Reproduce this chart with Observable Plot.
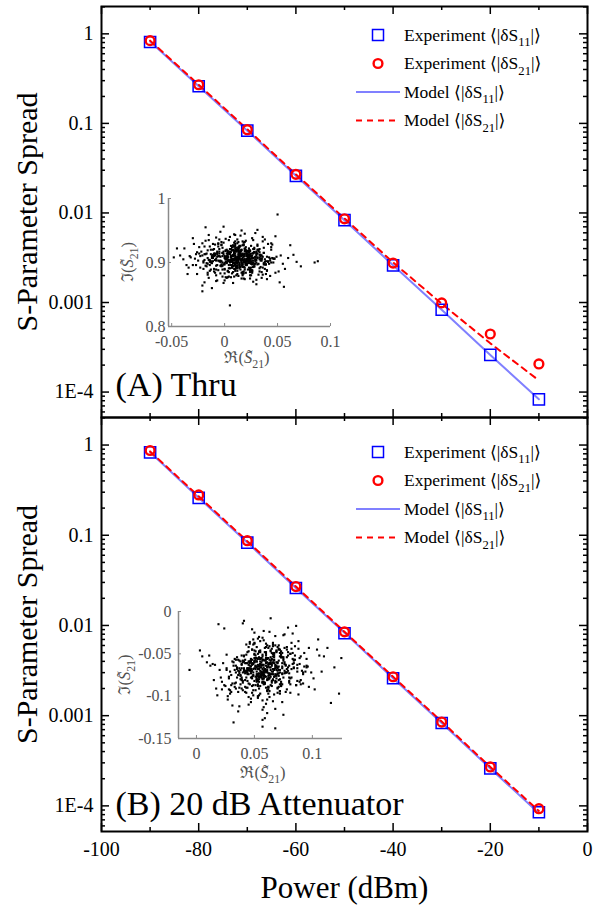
<!DOCTYPE html>
<html><head><meta charset="utf-8">
<script src="https://cdn.jsdelivr.net/npm/d3@7"></script>
<script src="https://cdn.jsdelivr.net/npm/@observablehq/plot@0.6"></script>
<style>
body{margin:0;background:#fff}
#c{position:relative;width:596px;height:905px;overflow:hidden;background:#fff}
#c svg{position:absolute;}
</style>
</head><body><div id="c"></div>
<script>
// ---------- data ----------
const power = [-90,-80,-70,-60,-50,-40,-30,-20,-10];
const thruExpS11   = [0.81, 0.26, 0.083, 0.026, 0.0083, 0.0026, 0.00083, 0.00026, 0.000083];
const thruExpS21   = [0.84, 0.27, 0.085, 0.027, 0.0086, 0.00276, 0.00099, 0.000445, 0.000206];
const thruModelS11 = [0.82, 0.26, 0.083, 0.026, 0.0083, 0.0026, 0.00083, 0.00026, 0.000083];
const thruModelS21 = [0.84, 0.27, 0.086, 0.027, 0.0087, 0.0028, 0.00097, 0.00035, 0.000135];
const attExpS11    = [0.83, 0.26, 0.083, 0.026, 0.0082, 0.0026, 0.00083, 0.00026, 0.000085];
const attExpS21    = [0.87, 0.28, 0.087, 0.027, 0.0085, 0.0027, 0.00085, 0.00027, 0.000093];
const attModelS11  = [0.83, 0.26, 0.083, 0.026, 0.0083, 0.0026, 0.00083, 0.00026, 0.000083];
const attModelS21  = [0.85, 0.27, 0.086, 0.027, 0.0085, 0.0027, 0.00086, 0.00027, 0.000088];

const yTickValues = [1, 0.1, 0.01, 0.001, 0.0001];
const yTickLabels = ["1", "0.1", "0.01", "0.001", "1E-4"];
const xTickValues = [-100, -80, -60, -40, -20, 0];
const xTickLabels = ["-100", "-80", "-60", "-40", "-20", "0"];
const xMinorValues = [-90, -70, -50, -30, -10];

const insetAXTicks = [-0.05, 0, 0.05, 0.1];
const insetAXLabels = ["-0.05", "0", "0.05", "0.1"];
const insetAYTicks = [0.8, 0.9, 1];
const insetAYLabels = ["0.8", "0.9", "1"];
const insetBXTicks = [0, 0.05, 0.1];
const insetBXLabels = ["0", "0.05", "0.1"];
const insetBYTicks = [-0.15, -0.1, -0.05, 0];
const insetBYLabels = ["-0.15", "-0.1", "-0.05", "0"];

// inset scatter (values in thousandths)
const thruRe = [12,-5,27,3,40,-18,9,21,-2,33,15,-27,6,18,48,-11,24,0,36,-8,10,29,-21,14,4,44,-14,19,7,-33,
25,11,-4,38,16,-24,2,30,13,55,-9,22,8,-16,35,17,-1,26,5,-38,20,42,-7,14,31,-20,9,3,47,23,
-12,16,28,-3,6,39,-26,18,11,62,1,24,34,-15,8,19,-6,45,13,-30,27,4,-19,37,21,10,-10,32,7,50,
-23,15,2,26,41,-13,17,6,-45,29,12,36,-8,22,3,53,-17,9,30,14,-28,20,5,43,-4,25,11,-35,16,68,
8,-2,33,19,-21,13,46,1,28,-11,24,6,-14,39,17,0,31,-25,10,57,-7,21,35,4,-18,14,27,9,-42,44,
18,-1,30,11,-29,23,7,51,-9,15,26,2,-16,37,12,20,-5,40,8,-22,33,16,-3,24,65,5,-13,29,19,-36,
10,43,1,22,-8,34,14,-19,27,6,-2,17,48,-10,25,9,38,-27,13,3,31,-15,20,7,56,15,-6,26,-32,11,
42,4,18,-12,35,23,0,-24,16,85,-4,28,10,45,-17,21,8,32,-39,14,5,37,-9,24,13,-20,30,2,49,18,
-14,9,27,-1,39,15,-26,22,6,72,19,-7,34,12,-48,25,3,41,-11,17,8,29,-18,20,1,52,-5,14,36,-23,
26,11,-13,31,4,60,-30,18,9,23,-3,38,15,-21,28,7,44,-8,12,33,2,-16,21,47,10,-34,27,16,-2,88];
const thruIm = [905,921,893,912,887,934,899,915,878,908,926,896,911,883,941,902,918,890,909,871,
914,898,930,906,885,920,901,945,892,910,880,917,903,936,895,924,907,866,913,898,
928,889,904,919,876,911,897,938,902,922,884,908,915,893,951,900,925,887,906,913,
860,919,897,932,904,882,916,909,894,927,901,875,912,943,899,921,888,907,918,896,
935,904,869,915,898,926,910,881,903,975,892,917,905,884,929,900,913,877,922,908,
895,940,903,918,886,911,899,931,873,914,906,924,891,903,948,898,919,882,910,901,
927,889,916,905,864,922,900,937,894,912,880,908,925,897,914,872,920,903,933,890,
909,918,885,902,955,896,915,878,911,924,900,868,913,906,929,892,919,886,904,942,
897,914,881,923,908,899,936,874,910,917,891,905,928,888,912,833,920,902,932,896,
911,879,918,903,939,893,906,925,870,909,915,898,884,921,901,944,890,913,906,877,
926,904,917,895,862,912,930,887,908,919,898,935,875,910,903,922,889,914,950,900,
883,916,907,928,894,911,868,920,905,891,940,899,912,885,924,902,917,876,909,931,
904,890,921,956,897,913,882,906,926,894,918,872,903,936,908,888,915,901,929,880,
912,946,895,920,905,869,917,899,933,910,886,923,902,914,878,907,938,893,919,904,
927,897,911,855,916,903,930,889,908,921,900,884,918,906,943,892,914,875,910,902];
const thruRe2 = [8,19,-3,14,25,2,11,30,-10,17,5,22,13,-6,28,9,16,0,34,12,-14,20,7,24,15,-2,31,10,18,4,
26,-8,13,21,6,37,11,-17,19,3,14,27,-4,9,23,16,1,33,-12,20,7,12,29,-1,18,10,40,5,15,-7,
24,13,2,21,8,-19,17,32,11,6,-5,25,14,19,0,36,9,16,-11,22,12,3,28,7,-15,20,15,10,43,1,
18,-3,26,13,8,31,-9,21,5,14,10,35,-6,17,23,4,12,-20,27,16,2,19,9,38,-2,24,11,6,-13,29,
15,7,22,0,33,13,-8,18,10,25,-4,14,30,8,20,-16,12,3,41,17,6,26,-1,11,21,15,-10,28,9,4,
19,35,13,-6,23,7,16,1,30,-14,11,24,5,18,-3,27,12,39,8,20,-7,15,2,22,10,32,-18,17,13,6,
25,9,-2,19,14,44,4,21,-11,16,12,29,7,-5,24,18,0,34,10,15,-9,20,13,26,3,37,11,-15,22,8,
17,5,31,14,-4,19,9,27,-21,12,23,1,16,40,7,13,-8,25,18,10,3,28,-12,15,21,6,33,11,-1,19,
14,8,24,-6,17,30,2,12,46,9,-16,22,16,5,27,13,-3,20,10,35,7,18,-10,25,15,0,29,11,4,-19,
21,14,38,8,-7,23,17,3,26,12,-2,31,9,19,6,-13,24,16,10,28,1,15,36,-5,20,11,7,22,-9,13];
const thruIm2 = [905,914,897,909,892,920,902,911,886,907,917,899,904,925,894,912,901,883,910,903,
896,918,906,890,913,900,928,905,893,915,908,880,911,902,921,897,906,914,889,903,
924,900,909,895,916,904,877,912,907,898,919,893,905,931,901,910,888,915,903,896,
911,922,899,906,885,913,904,918,894,908,902,926,896,910,907,881,914,900,920,905,
891,909,916,903,935,898,912,887,906,919,904,895,911,922,900,908,884,914,902,917,
897,906,929,893,910,903,919,890,907,912,901,874,915,905,923,899,908,896,913,904,
918,892,903,910,886,916,906,927,900,909,895,912,904,920,897,907,882,914,902,933,
908,899,917,893,905,911,890,921,903,896,913,906,879,910,901,924,898,909,915,887,
904,919,900,912,894,907,930,902,911,896,917,889,906,903,922,898,913,885,908,901,
910,925,895,905,916,900,891,912,907,920,899,909,883,914,904,928,897,906,918,893,
911,902,921,888,908,915,900,876,910,905,896,913,907,926,901,892,917,903,911,898,
919,906,884,909,902,932,895,914,904,890,908,923,899,911,896,916,905,880,913,901,
907,894,918,903,927,900,910,887,906,915,898,912,905,921,893,909,902,934,897,911,
903,886,914,906,919,899,908,891,916,904,910,925,901,895,913,907,882,918,903,900,
915,897,906,922,909,889,912,904,929,898,905,917,892,910,902,920,896,908,914,901];
const attRe = [58,41,73,62,30,85,51,67,45,95,60,22,77,54,39,69,48,104,63,35,56,81,44,66,12,72,53,90,38,61,
47,76,59,28,83,50,65,42,110,57,70,33,64,52,88,46,18,74,55,68,40,79,61,26,93,49,71,36,58,84,
52,3,66,43,78,57,31,99,63,47,74,55,37,69,60,116,45,62,24,80,54,67,41,87,50,15,72,59,34,65,
48,92,56,29,75,63,44,106,53,70,38,82,58,20,68,51,89,46,61,9,77,54,35,71,64,97,42,57,27,81,
60,49,86,39,66,55,123,44,73,32,62,52,78,17,69,58,40,94,47,65,56,25,83,61,43,72,50,101,36,67,
59,46,76,30,64,53,88,-6,70,57,41,80,62,48,108,55,34,74,60,45,68,22,85,51,63,39,96,57,73,28,
54,66,44,79,58,14,71,49,91,37,62,53,84,31,67,56,42,113,60,75,47,69,26,82,55,64,38,93,51,19,
72,59,45,87,61,33,77,54,68,102,43,65,57,23,80,50,70,36,89,58,48,74,62,11,66,53,97,40,76,56,
63,29,84,52,69,44,119,57,35,71,60,46,90,55,27,78,64,41,86,51,67,5,73,58,37,95,49,62,32,81,
54,70,43,105,59,24,75,61,47,66,39,83,56,16,72,52,92,45,68,125,57,34,79,63,48,87,50,21,74,60];
const attIm = [-70,-52,-88,-63,-95,-41,-77,-58,-110,-66,-48,-83,-72,-30,-91,-60,-79,-45,-101,-68,
-55,-86,-74,-37,-64,-97,-50,-81,-69,-120,-59,-43,-76,-92,-62,-25,-84,-71,-53,-105,
-67,-89,-47,-78,-35,-61,-99,-73,-56,-82,-14,-70,-94,-51,-65,-87,-40,-75,-113,-58,
-80,-46,-68,-96,-54,-31,-85,-72,-62,-103,-49,-77,-90,-66,-42,-108,-59,-73,-20,-84,
-64,-98,-53,-71,-38,-81,-69,-126,-57,-88,-45,-74,-63,-93,-28,-79,-67,-52,-100,-61,
-86,-44,-76,-69,-115,-55,-83,-36,-72,-60,-95,-48,-78,-65,-8,-89,-57,-74,-104,-50,
-70,-33,-87,-62,-80,-46,-97,-68,-54,-131,-76,-59,-42,-91,-64,-23,-82,-71,-107,-56,
-73,-88,-49,-66,-39,-94,-60,-79,-118,-52,-85,-67,-27,-75,-58,-102,-44,-69,-90,-63,
-11,-78,-55,-96,-71,-35,-84,-61,-109,-47,-74,-92,-57,-68,-41,-81,-65,-136,-53,-77,
-99,-50,-72,-19,-86,-62,-45,-93,-70,-58,-80,-32,-66,-111,-54,-75,-89,-43,-64,-122,
-56,-83,-69,-37,-97,-60,-76,-49,-87,-15,-72,-58,-101,-67,-40,-85,-63,-78,-29,-92,
-51,-74,-116,-61,-82,-46,-70,-95,-55,-34,-88,-65,-79,-52,-106,-68,-43,-84,-60,-73,
-24,-97,-57,-76,-48,-90,-66,-128,-54,-81,-71,-38,-86,-62,-100,-45,-77,-59,-17,-93,
-68,-53,-83,-74,-112,-56,-39,-89,-64,-79,-47,-96,-61,-33,-72,-87,-58,-104,-69,-50,
-80,-26,-75,-63,-94,-42,-85,-67,-138,-55,-73,-91,-48,-66,-21,-82,-60,-78,-107,-57];
const attRe2 = [58,47,66,53,71,60,42,64,55,78,50,62,37,69,57,45,74,52,61,84,48,59,67,40,56,73,51,63,33,68,
57,46,80,54,62,49,70,43,59,65,52,76,38,61,55,88,47,66,58,41,72,53,60,30,64,50,69,57,44,77,
56,63,48,71,35,59,54,82,46,67,61,52,74,39,58,65,43,70,55,26,63,49,79,57,45,68,53,92,60,51,
66,40,58,73,48,62,56,36,69,54,47,75,59,64,42,81,52,60,67,34,57,50,71,45,63,55,86,49,61,38,
68,53,44,76,58,62,31,66,51,72,56,64,47,59,83,41,65,54,70,46,60,37,73,52,57,67,49,95,55,62,
43,69,58,50,78,61,39,64,53,74,48,56,66,29,71,59,45,63,57,85,52,68,40,61,55,72,47,65,33,58,
77,50,62,44,69,56,60,89,46,64,54,38,70,58,51,75,63,42,67,57,49,80,55,61,36,66,53,73,45,59,
62,28,68,56,47,71,52,90,60,43,65,57,50,76,39,63,54,69,58,48,72,44,61,55,82,51,66,34,59,64,
46,70,57,53,79,41,62,56,68,50,60,87,45,65,54,37,71,58,63,49,74,52,59,43,67,56,81,48,62,40,
57,69,51,64,32,73,55,60,47,66,53,78,58,44,70,61,50,84,56,39,63,54,72,46,59,67,42,65,57,75];
const attIm2 = [-70,-58,-81,-65,-76,-52,-73,-62,-88,-68,-55,-79,-71,-46,-84,-63,-74,-59,-93,-67,
-61,-77,-50,-72,-66,-85,-57,-75,-69,-40,-80,-64,-73,-54,-90,-68,-60,-78,-48,-71,
-83,-62,-75,-56,-70,-98,-65,-53,-79,-67,-45,-74,-61,-87,-69,-58,-76,-51,-82,-72,
-64,-94,-57,-73,-66,-43,-80,-68,-60,-77,-71,-55,-86,-63,-75,-49,-70,-91,-59,-67,
-78,-62,-52,-74,-69,-84,-56,-72,-38,-65,-81,-60,-76,-47,-70,-89,-63,-57,-79,-68,
-73,-54,-85,-66,-61,-96,-71,-50,-77,-64,-58,-82,-69,-42,-75,-62,-87,-72,-55,-80,
-67,-76,-48,-70,-63,-92,-59,-74,-65,-53,-78,-61,-71,-84,-56,-69,-44,-77,-66,-86,
-60,-73,-51,-80,-68,-57,-99,-64,-75,-62,-70,-47,-83,-59,-72,-66,-78,-54,-88,-67,
-63,-76,-41,-71,-58,-85,-69,-61,-79,-52,-74,-65,-93,-60,-77,-49,-68,-82,-56,-72,
-64,-37,-80,-67,-75,-55,-90,-62,-70,-46,-83,-59,-73,-66,-52,-78,-61,-95,-69,-57,
-76,-64,-48,-81,-70,-60,-86,-54,-74,-68,-43,-79,-63,-71,-58,-89,-66,-53,-77,-72,
-62,-84,-50,-73,-67,-57,-91,-65,-75,-45,-80,-61,-69,-56,-78,-64,-39,-72,-68,-87,
-59,-74,-53,-82,-66,-71,-97,-60,-76,-51,-70,-63,-85,-57,-73,-67,-44,-79,-62,-75,
-54,-81,-68,-90,-61,-72,-50,-77,-65,-58,-83,-69,-47,-74,-60,-88,-66,-55,-78,-71,
-63,-92,-57,-70,-42,-80,-67,-61,-76,-52,-73,-65,-86,-59,-69,-49,-81,-64,-72,-56];

// ---------- layout ----------
const FONT = "'Liberation Serif', 'Times New Roman', 'DejaVu Serif', serif";
const W = 596, ML = 101, MR = 9;
const yDomain = [5.2e-5, 2.02];
const container = document.getElementById("c");

function rich(sel, parts, size) {
  parts.forEach(p => {
    const ts = sel.append("tspan").text(p.t);
    if (p.i) ts.attr("font-style", "italic");
    if (p.sub) ts.attr("font-size", size * 0.72).attr("dy", size * 0.3);
    else if (p.after) ts.attr("dy", -size * 0.3);
  });
}

function legend(svg) {
  const g = d3.select(svg).append("g").attr("font-family", FONT).attr("font-size", 17.5)
    .attr("fill", "black").attr("text-anchor", "start").style("text-anchor", "start");
  const cx = 378, tx = 404;
  const rowsY = [35, 63.5, 92, 120.5];
  g.append("rect").attr("x", cx - 5.5).attr("y", rowsY[0] - 5.5).attr("width", 11).attr("height", 11)
    .attr("fill", "none").attr("stroke", "#0000ff").attr("stroke-width", 1.5);
  g.append("circle").attr("cx", cx).attr("cy", rowsY[1]).attr("r", 4.4)
    .attr("fill", "none").attr("stroke", "#ff0000").attr("stroke-width", 2.4);
  g.append("line").attr("x1", 356).attr("x2", 400).attr("y1", rowsY[2]).attr("y2", rowsY[2])
    .attr("stroke", "#8080ff").attr("stroke-width", 2);
  g.append("line").attr("x1", 356).attr("x2", 400).attr("y1", rowsY[3]).attr("y2", rowsY[3])
    .attr("stroke", "#ff0000").attr("stroke-width", 2).attr("stroke-dasharray", "6,5");
  const texts = [["Experiment ⟨|δS", "11"], ["Experiment ⟨|δS", "21"], ["Model ⟨|δS", "11"], ["Model ⟨|δS", "21"]];
  texts.forEach((t, i) => {
    const el = g.append("text").attr("x", tx).attr("y", rowsY[i]).attr("dy", "0.33em").style("text-anchor", "start");
    rich(el, [{t: t[0]}, {t: t[1], sub: true}, {t: "|⟩", after: true}], 17.5);
  });
}

function mainPanel(o) {
  const fw = W - ML - MR, fh = o.height - o.mt - o.mb;
  const rows = arr => power.map((p, i) => ({p, v: arr[i]}));
  const yMinor = [];
  for (let k = -5; k <= 0; k++) for (let m = 2; m <= 9; m++) {
    const v = m * Math.pow(10, k);
    if (v > yDomain[0] && v < yDomain[1]) yMinor.push(v);
  }
  const ts = {stroke: "black", strokeWidth: 1.5};
  const marks = [
    Plot.line(rows(o.m11), {x: "p", y: "v", stroke: "#8080ff", strokeWidth: 2}),
    Plot.line(rows(o.m21), {x: "p", y: "v", stroke: "#ff0000", strokeWidth: 2, strokeDasharray: "6,5"}),
    Plot.dot(rows(o.e11), {x: "p", y: "v", symbol: "square", r: 6.3, stroke: "#0000ff", strokeWidth: 1.5, fill: "none"}),
    Plot.dot(rows(o.e21), {x: "p", y: "v", symbol: "circle", r: 4.4, stroke: "#ff0000", strokeWidth: 2.4, fill: "none"}),
    Plot.ruleY(yTickValues, {...ts, insetRight: fw - 8}),
    Plot.ruleY(yMinor, {...ts, insetRight: fw - 4}),
    Plot.ruleY(yTickValues, {...ts, insetLeft: fw - 8}),
    Plot.ruleY(yMinor, {...ts, insetLeft: fw - 4}),
    Plot.ruleX(xTickValues, {...ts, insetTop: fh - 8}),
    Plot.ruleX(xMinorValues, {...ts, insetTop: fh - 4}),
    Plot.ruleX(xTickValues, {...ts, insetBottom: fh - 8}),
    Plot.ruleX(xMinorValues, {...ts, insetBottom: fh - 4}),
    Plot.axisY(yTickValues, {tickSize: 0, tickPadding: 8, fontSize: 20, label: null,
      tickFormat: d => yTickLabels[yTickValues.indexOf(d)]}),
    Plot.frame({stroke: "black", strokeWidth: 2}),
    Plot.text(["S-Parameter Spread"], {frameAnchor: "left", dx: -74, rotate: -90, fontSize: 30,
      textAnchor: "middle", lineAnchor: "middle"}),
    Plot.text([o.label], {frameAnchor: "bottom-left", dx: 14, dy: o.labelDy, textAnchor: "start",
      lineAnchor: "middle", fontSize: 34})
  ];
  if (o.showX) {
    marks.push(Plot.axisX(xTickValues, {tickSize: 0, tickPadding: 10, fontSize: 20, label: null,
      tickFormat: d => xTickLabels[xTickValues.indexOf(d)]}));
    marks.push(Plot.text(["Power (dBm)"], {frameAnchor: "bottom", dy: 57, fontSize: 31,
      textAnchor: "middle", lineAnchor: "middle"}));
  }
  const svg = Plot.plot({
    width: W, height: o.height, marginLeft: ML, marginRight: MR, marginTop: o.mt, marginBottom: o.mb,
    x: {domain: [-100, 0], axis: o.showX ? undefined : null},
    y: {type: "log", domain: yDomain},
    style: {fontFamily: FONT, color: "black", background: "transparent", overflow: "visible"},
    marks
  });
  svg.style.left = "0px";
  svg.style.top = o.top + "px";
  legend(svg);
  container.appendChild(svg);
}

function insetPanel(o) {
  const ml = 55, mr = 6, mt = 6, mb = 45;
  const fw = o.fw, fh = o.fh;
  const pts = o.re.map((r, i) => ({x: r / 1000, y: o.im[i] / 1000}));
  const grey = "#8a8a8a", txt = "#505050";
  const svg = Plot.plot({
    width: fw + ml + mr, height: fh + mt + mb, marginLeft: ml, marginRight: mr, marginTop: mt, marginBottom: mb,
    x: {domain: o.xDom}, y: {domain: o.yDom},
    style: {fontFamily: FONT, color: txt, background: "transparent", overflow: "visible"},
    marks: [
      Plot.dot(pts, {x: "x", y: "y", r: 1.2, symbol: "square", fill: "black", stroke: "none"}),
      Plot.ruleY([o.yDom[0]], {stroke: grey, strokeWidth: 1.5}),
      Plot.ruleX([o.xDom[0]], {stroke: grey, strokeWidth: 1.5}),
      Plot.ruleX(o.xTicks, {stroke: grey, insetTop: fh - 3}),
      Plot.ruleY(o.yTicks, {stroke: grey, insetRight: fw - 3}),
      Plot.axisX(o.xTicks, {tickSize: 0, tickPadding: 9, fontSize: 16, label: null, color: txt,
        tickFormat: d => o.xLabels[o.xTicks.indexOf(d)]}),
      Plot.axisY(o.yTicks, {tickSize: 0, tickPadding: o.yPad, fontSize: 16, label: null, color: txt,
        tickFormat: d => o.yLabels[o.yTicks.indexOf(d)]})
    ]
  });
  const s = d3.select(svg);
  const yl = s.append("text").attr("transform", `translate(${ml + o.yLabDx},${mt + fh / 2}) rotate(-90)`)
    .attr("text-anchor", "middle").attr("dy", "0.33em").attr("font-size", 16.5).attr("fill", txt).attr("font-family", FONT);
  rich(yl, [{t: "ℑ("}, {t: "S\u0303", i: true}, {t: "21", sub: true}, {t: ")", after: true}], 16.5);
  const xl = s.append("text").attr("x", ml + fw / 2 + o.xLabDx).attr("y", mt + fh + o.xLabDy)
    .attr("text-anchor", "middle").attr("dy", "0.33em").attr("font-size", 16.5).attr("fill", txt).attr("font-family", FONT);
  rich(xl, [{t: "ℜ("}, {t: "S\u0303", i: true}, {t: "21", sub: true}, {t: ")", after: true}], 16.5);
  svg.style.left = (o.left - ml) + "px";
  svg.style.top = (o.top - mt) + "px";
  container.appendChild(svg);
}

mainPanel({top: 0, height: 418, mt: 6, mb: 1, e11: thruExpS11, e21: thruExpS21, m11: thruModelS11, m21: thruModelS21,
  label: "(A) Thru", labelDy: -32, showX: false});
mainPanel({top: 417, height: 488, mt: 0, mb: 74, e11: attExpS11, e21: attExpS21, m11: attModelS11, m21: attModelS21,
  label: "(B) 20 dB Attenuator", labelDy: -27, showX: true});

insetPanel({left: 168, top: 198, fw: 162, fh: 128, xDom: [-0.053, 0.1], yDom: [0.8, 1.0],
  xTicks: insetAXTicks, xLabels: insetAXLabels, yTicks: insetAYTicks, yLabels: insetAYLabels,
  re: thruRe.concat(thruRe2), im: thruIm.concat(thruIm2), yPad: 3, yLabDx: -40, xLabDx: -2, xLabDy: 32});
insetPanel({left: 178, top: 611, fw: 164, fh: 127, xDom: [-0.0155, 0.126], yDom: [-0.15, 0],
  xTicks: insetBXTicks, xLabels: insetBXLabels, yTicks: insetBYTicks, yLabels: insetBYLabels,
  re: attRe.concat(attRe2), im: attIm.concat(attIm2), yPad: 7, yLabDx: -53, xLabDx: 3, xLabDy: 35});
</script>
</body></html>
